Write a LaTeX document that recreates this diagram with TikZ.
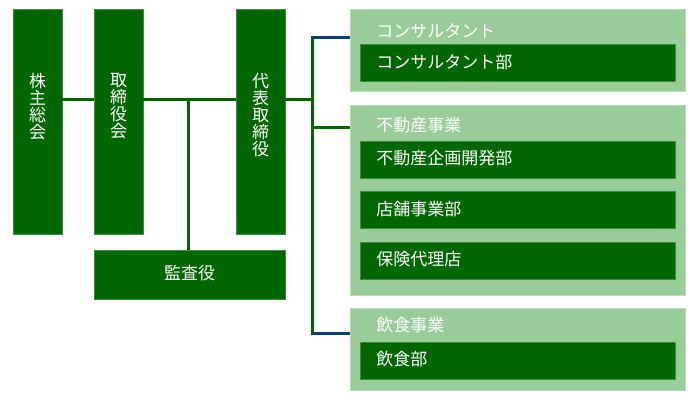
\documentclass[tikz,border=0pt]{standalone}
\usepackage{fontspec}
\newfontfamily\cjk{Noto Sans CJK JP}
\definecolor{dgreen}{HTML}{006600}
\definecolor{lgreen}{HTML}{99CC99}
\definecolor{navy}{HTML}{0D3B6E}
\tikzset{
  dbox/.style={rectangle, fill=dgreen, draw=dgreen!75!white, line width=0.5pt, inner sep=0pt},
  gbox/.style={rectangle, fill=lgreen, draw=lgreen!70!white, line width=0.5pt, inner sep=0pt},
  txt/.style={text=white, inner sep=0pt, font=\cjk\fontsize{12.75pt}{12.75pt}\selectfont},
  vtxt/.style={txt, align=center, anchor=north},
  ltxt/.style={txt, anchor=west},
  gline/.style={draw=dgreen, line width=2.25pt},
  nline/.style={draw=navy, line width=2.25pt},
}
\begin{document}
\begin{tikzpicture}[x=0.75pt, y=-0.75pt]
\useasboundingbox (0,0) rectangle (700,400);
% left boxes
\node[dbox, minimum width=36.75pt, minimum height=168.75pt] (a) at (37.5,121.5) {};
\node[dbox, minimum width=36.75pt, minimum height=168.75pt] (b) at (118.5,121.5) {};
\node[dbox, minimum width=36.75pt, minimum height=168.75pt] (c) at (260.5,121.5) {};
\node[dbox, minimum width=143.25pt, minimum height=36.75pt] (d) at (189.5,274.5) {};
\node[vtxt] (at) at (37.5,73) {株\\主\\総\\会};
\node[vtxt] (bt) at (118.5,73) {取\\締\\役\\会};
\node[vtxt] (ct) at (260.5,73) {代\\表\\取\\締\\役};
\node[txt] (dt) at (189.5,273) {監査役};
% groups
\node[gbox, minimum width=251.25pt, minimum height=61.5pt] (g1) at (517.5,50) {};
\node[gbox, minimum width=251.25pt, minimum height=142.5pt] (g2) at (517.5,200) {};
\node[gbox, minimum width=251.25pt, minimum height=61.5pt] (g3) at (517.5,349) {};
\node[ltxt] (g1t) at (376,31) {コンサルタント};
\node[ltxt] (g2t) at (376,125) {不動産事業};
\node[ltxt] (g3t) at (376,325) {飲食事業};
% inner boxes
\node[dbox, minimum width=236.25pt, minimum height=27.75pt] (i1) at (517.5,62.5) {};
\node[dbox, minimum width=236.25pt, minimum height=27.75pt] (i2) at (517.5,159.5) {};
\node[dbox, minimum width=236.25pt, minimum height=27.75pt] (i3) at (517.5,210) {};
\node[dbox, minimum width=236.25pt, minimum height=27.75pt] (i4) at (517.5,260.5) {};
\node[dbox, minimum width=236.25pt, minimum height=27.75pt] (i5) at (517.5,360.5) {};
\node[ltxt] (i1t) at (376,62) {コンサルタント部};
\node[ltxt] (i2t) at (376,158) {不動産企画開発部};
\node[ltxt] (i3t) at (376,209) {店舗事業部};
\node[ltxt] (i4t) at (376,259) {保険代理店};
\node[ltxt] (i5t) at (376,359) {飲食部};
% connectors
\coordinate (j1) at (188,99);
\coordinate (vt) at (312.5,37.5);
\coordinate (vb) at (312.5,333.5);
\coordinate (vm) at (312.5,127);
\coordinate (vc) at (312.5,99);
\draw[gline] (a.east |- j1) -- (b.west |- j1);
\draw[gline] (b.east |- j1) -- (c.west |- j1);
\draw[gline] (j1) -- (d.north -| j1);
\draw[gline] (c.east |- vc) -- (vc);
\draw[gline] (vt) -- (vb);
\draw[gline] (vm) -- (g2.west |- vm);
\draw[nline] ([xshift=-1.125pt]vt) -- (g1.west |- vt);
\draw[nline] ([xshift=-1.125pt]vb) -- (g3.west |- vb);
\end{tikzpicture}
\end{document}
